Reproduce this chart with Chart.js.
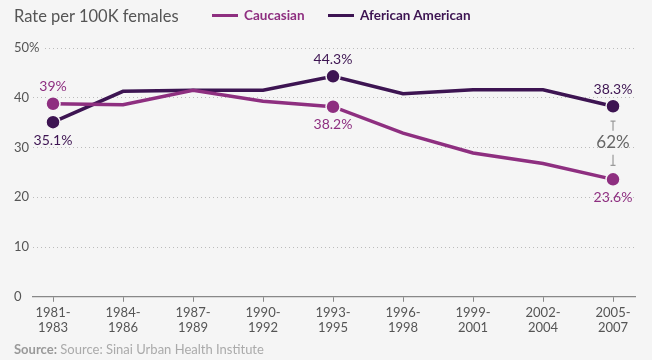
<!DOCTYPE html>
<html>
<head>
<meta charset="utf-8">
<script src="https://cdn.jsdelivr.net/npm/chart.js@4"></script>
<style>
    html, body { margin: 0; padding: 0; background: #f5f5f5; }
    #wrap { position: relative; width: 652px; height: 360px; font-family: Lato, sans-serif; }
    #chart { position: absolute; left: 0; top: 0; }
    .title { position: absolute; left: 14px; top: 6px; font-size: 16.5px; color: #555; }
    .legend { position: absolute; top: 7px; font-size: 13.5px; font-weight: bold; }
    .legend span.sw { display: inline-block; width: 26px; height: 3px; vertical-align: middle; margin-right: 6px; margin-top: -3px; }
    .source { position: absolute; left: 14px; top: 341px; font-size: 13px; color: #aaa; }
    .source b { color: #999; }
</style>
</head>
<body>
<div id="wrap">
    <canvas id="chart" width="652" height="360"></canvas>
    <div class="title">Rate per 100K females</div>
    <div class="legend" style="left:212px;color:#8e2f80"><span class="sw" style="background:#8e2f80"></span>Caucasian</div>
    <div class="legend" style="left:328px;color:#3d1452"><span class="sw" style="background:#3d1452"></span>Aferican American</div>
    <div class="source"><b>Source:</b> Source: Sinai Urban Health Institute</div>
</div>
<script>
const periods = [
    ["1981-", "1983"], ["1984-", "1986"], ["1987-", "1989"],
    ["1990-", "1992"], ["1993-", "1995"], ["1996-", "1998"],
    ["1999-", "2001"], ["2002-", "2004"], ["2005-", "2007"]
]
const caucasian = [38.8, 38.6, 41.5, 39.3, 38.2, 32.9, 28.9, 26.8, 23.6]
const african = [35.1, 41.3, 41.5, 41.5, 44.3, 40.8, 41.6, 41.6, 38.3]
const yTicks = [0, 10, 20, 30, 40, 50]

// labels shown next to the marked points: [index, text, above?]
const caucasianLabels = [[0, "39%", true], [4, "38.2%", false], [8, "23.6%", false]]
const africanLabels = [[0, "35.1%", false], [4, "44.3%", true], [8, "38.3%", true]]
const gapLabel = "62%"

const magenta = "#8e2f80"
const purple = "#3d1452"

const marked = [0, 4, 8]
const radii = periods.map((p, i) => marked.includes(i) ? 7 : 0)

function toXY(arr){
    return arr.map((v, i) => ({ x: i, y: v }))
}

const labelPlugin = {
    id: "pointLabels",
    afterDatasetsDraw(chart){
        const c = chart.ctx
        const xs = chart.scales.x
        const ys = chart.scales.y
        c.save()
        c.font = "14px Lato"
        c.textAlign = "center"
        c.textBaseline = "middle"
        const draw = (list, data, color) => {
            c.fillStyle = color
            list.forEach(([i, txt, above]) => {
                const px = xs.getPixelForValue(i)
                const py = ys.getPixelForValue(data[i])
                c.fillText(txt, px, py + (above ? -17 : 18))
            })
        }
        draw(caucasianLabels, caucasian, magenta)
        draw(africanLabels, african, purple)

        // gap annotation between last points
        const last = periods.length - 1
        const gx = xs.getPixelForValue(last)
        const top = ys.getPixelForValue(african[last])
        const bot = ys.getPixelForValue(caucasian[last])
        const mid = (top + bot) / 2
        c.fillStyle = "#666"
        c.font = "17px Lato"
        c.fillText(gapLabel, gx, mid)
        c.strokeStyle = "#999"
        c.lineWidth = 1.2
        c.beginPath()
        c.moveTo(gx, top + 15); c.lineTo(gx, mid - 12)
        c.moveTo(gx - 2.5, top + 15); c.lineTo(gx + 2.5, top + 15)
        c.moveTo(gx, mid + 12); c.lineTo(gx, bot - 14)
        c.moveTo(gx - 2.5, bot - 14); c.lineTo(gx + 2.5, bot - 14)
        c.stroke()
        c.restore()
    }
}

Chart.defaults.font.family = "Lato"
Chart.defaults.color = "#555"

new Chart(document.getElementById("chart").getContext("2d"), {
    type: "line",
    data: {
        datasets: [
            {
                label: "Caucasian",
                data: toXY(caucasian),
                borderColor: magenta,
                backgroundColor: magenta,
                borderWidth: 3.5,
                pointRadius: radii,
                pointBorderColor: "#f5f5f5",
                pointBorderWidth: 1.5,
                tension: 0
            },
            {
                label: "Aferican American",
                data: toXY(african),
                borderColor: purple,
                backgroundColor: purple,
                borderWidth: 3.5,
                pointRadius: radii,
                pointBorderColor: "#f5f5f5",
                pointBorderWidth: 1.5,
                tension: 0
            }
        ]
    },
    options: {
        responsive: false,
        animation: false,
        layout: { padding: { top: 48, left: 14, right: 17, bottom: 21 } },
        plugins: { legend: { display: false }, tooltip: { enabled: false } },
        scales: {
            x: {
                type: "linear",
                min: -0.286,
                max: 8.314,
                afterBuildTicks(axis){
                    axis.ticks = periods.map((p, i) => ({ value: i }))
                },
                ticks: {
                    callback: (v) => periods[v] || "",
                    font: { size: 13 },
                    color: "#555",
                    maxRotation: 0,
                    padding: 3
                },
                grid: { drawOnChartArea: false, drawTicks: true, tickLength: 5, color: "#888" },
                border: { display: true, color: "#888", width: 1.2 }
            },
            y: {
                min: 0,
                max: 50,
                afterBuildTicks(axis){
                    axis.ticks = yTicks.map(v => ({ value: v }))
                },
                afterFit(axis){
                    axis.width = 19
                },
                ticks: {
                    callback: (v) => v === 50 ? "50%" : String(v),
                    font: { size: 13 },
                    color: "#555",
                    mirror: true,
                    crossAlign: "near",
                    padding: -19,
                    showLabelBackdrop: true,
                    backdropColor: "#f5f5f5",
                    backdropPadding: { left: 0, right: 3, top: 2, bottom: 2 }
                },
                grid: { color: "#bbb", drawTicks: false, lineWidth: (ctx) => ctx.tick && ctx.tick.value === 0 ? 0 : 1 },
                border: { display: false, dash: [1, 3] }
            }
        }
    },
    plugins: [labelPlugin]
})
</script>
</body>
</html>
